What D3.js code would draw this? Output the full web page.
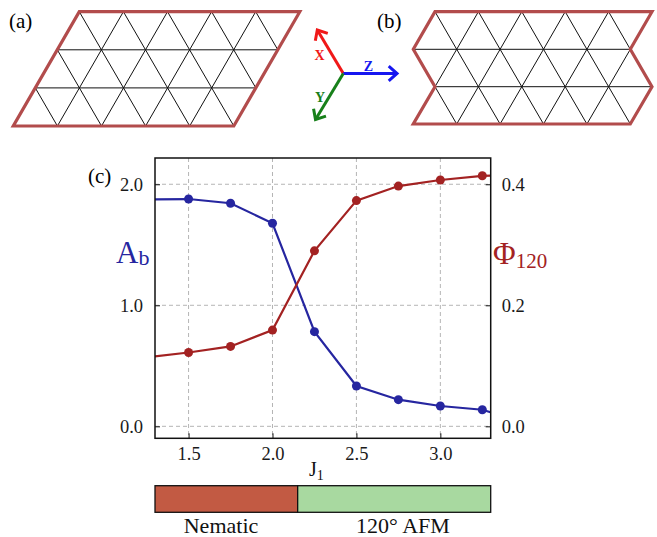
<!DOCTYPE html>
<html>
<head>
<meta charset="utf-8">
<script src="https://cdn.jsdelivr.net/npm/d3@7"></script>
<style>
  body { margin: 0; background: #fff; }
  svg text { font-family: "Liberation Serif", "DejaVu Serif", serif; }
</style>
</head>
<body>
<script>
// data
const J1 = [1.25, 1.5, 1.75, 2.0, 2.25, 2.5, 2.75, 3.0, 3.25, 3.5];
const Ab = [1.875, 1.878, 1.843, 1.678, 0.782, 0.333, 0.220, 0.168, 0.137, 0.030];
const phi120 = [0.114, 0.122, 0.132, 0.159, 0.290, 0.373, 0.397, 0.407, 0.414, 0.416];
const xTicks = [1.5, 2.0, 2.5, 3.0];
const leftTicks = [0.0, 1.0, 2.0];
const rightTicks = [0.0, 0.2, 0.4];
const phases = ["Nematic", "120\u00b0 AFM"];
const phaseEdges = [1.3, 2.15, 3.3];
const phaseColors = ["#c25a43", "#a8d9a0"];

const blue = "#2626a0", red = "#a32222", latticeRed = "#b24c4c";
const serif = "'Liberation Serif', 'Times New Roman', serif";

const svg = d3.select("body").append("svg")
  .attr("width", 657).attr("height", 537);

// ---------- panel (a): rhombic triangular lattice ----------
(function() {
  const o = [79.3, 11.7], a1 = [44.1, 0], a2 = [-22, 38.1];
  const P = (i, j) => [o[0] + i * a1[0] + j * a2[0], o[1] + i * a1[1] + j * a2[1]];
  const segs = [];
  for (let j = 1; j < 3; j++) segs.push([P(0, j), P(5, j)]);
  for (let i = 1; i < 5; i++) segs.push([P(i, 0), P(i, 3)]);
  for (let d = -2; d <= 4; d++) {
    const i0 = Math.max(0, d), i1 = Math.min(5, 3 + d);
    segs.push([P(i0, i0 - d), P(i1, i1 - d)]);
  }
  const g = svg.append("g");
  g.selectAll("line").data(segs).join("line")
    .attr("x1", d => d[0][0]).attr("y1", d => d[0][1])
    .attr("x2", d => d[1][0]).attr("y2", d => d[1][1])
    .attr("stroke", "#111").attr("stroke-width", 1);
  g.append("path")
    .attr("d", d3.line()([P(0, 0), P(5, 0), P(5, 3), P(0, 3)]) + "Z")
    .attr("fill", "none").attr("stroke", latticeRed).attr("stroke-width", 3.2);
  svg.append("text").attr("x", 9).attr("y", 28).attr("font-size", 21).style("font-family", serif).text("(a)");
})();

// ---------- panel (b): zigzag-edged lattice ----------
(function() {
  const rowY = [11.7, 49.3, 86.7, 124], step = 43.4;
  const P = (k, r) => [(r % 2 === 0 ? 435 : 413.3) + k * step, rowY[r]];
  const segs = [];
  for (let r = 1; r < 3; r++) segs.push([P(0, r), P(5, r)]);
  for (let r = 0; r < 3; r++) {
    for (let k = 0; k < 6; k++) {
      for (let m = 0; m < 6; m++) {
        const dx = Math.abs(P(k, r)[0] - P(m, r + 1)[0]);
        if (dx < step * 0.6) segs.push([P(k, r), P(m, r + 1)]);
      }
    }
  }
  const g = svg.append("g");
  g.selectAll("line").data(segs).join("line")
    .attr("x1", d => d[0][0]).attr("y1", d => d[0][1])
    .attr("x2", d => d[1][0]).attr("y2", d => d[1][1])
    .attr("stroke", "#111").attr("stroke-width", 1);
  const border = [P(0, 0), P(5, 0), P(5, 1), P(5, 2), P(5, 3), P(0, 3), P(0, 2), P(0, 1)];
  g.append("path").attr("d", d3.line()(border) + "Z")
    .attr("fill", "none").attr("stroke", latticeRed).attr("stroke-width", 3.2);
  svg.append("text").attr("x", 377).attr("y", 28).attr("font-size", 21).style("font-family", serif).text("(b)");
})();

// ---------- axes arrows ----------
(function() {
  const o = [343.3, 73.5];
  const arrows = [
    { end: [317.3, 30], color: "#f01818", label: "X", lp: [319.5, 60] },
    { end: [397, 73.5], color: "#1616f0", label: "Z", lp: [368.5, 71] },
    { end: [315.5, 119.5], color: "#17801a", label: "Y", lp: [320, 102] }
  ];
  const g = svg.append("g");
  arrows.forEach(a => {
    const ang = Math.atan2(a.end[1] - o[1], a.end[0] - o[0]);
    const L = 11, spread = 0.72;
    g.append("line").attr("x1", o[0]).attr("y1", o[1]).attr("x2", a.end[0]).attr("y2", a.end[1])
      .attr("stroke", a.color).attr("stroke-width", 3);
    const head = [
      [a.end[0] - L * Math.cos(ang - spread), a.end[1] - L * Math.sin(ang - spread)],
      a.end,
      [a.end[0] - L * Math.cos(ang + spread), a.end[1] - L * Math.sin(ang + spread)]
    ];
    g.append("path").attr("d", d3.line()(head)).attr("fill", "none")
      .attr("stroke", a.color).attr("stroke-width", 3).attr("stroke-linejoin", "miter");
    g.append("text").attr("x", a.lp[0]).attr("y", a.lp[1]).attr("text-anchor", "middle")
      .attr("font-size", 14).attr("font-weight", "bold").attr("fill", a.color)
      .style("font-family", serif).text(a.label);
  });
})();

// ---------- panel (c): chart ----------
const pLeft = 155, pRight = 490.7, pTop = 158, pBottom = 438.3;
const x = d3.scaleLinear().domain([1.3, 3.3]).range([pLeft, pRight]);
const yL = d3.scaleLinear().domain([-0.099, 2.217]).range([pBottom, pTop]);
const yR = d3.scaleLinear().domain([-0.0198, 0.4434]).range([pBottom, pTop]);

svg.append("clipPath").attr("id", "clip").append("rect")
  .attr("x", pLeft).attr("y", pTop).attr("width", pRight - pLeft).attr("height", pBottom - pTop);

// grid
const grid = svg.append("g").attr("stroke", "#b5b5b5").attr("stroke-width", 1).attr("stroke-dasharray", "4,3");
grid.selectAll(".gx").data(xTicks).join("line").attr("class", "gx")
  .attr("x1", d => x(d)).attr("x2", d => x(d)).attr("y1", pTop).attr("y2", pBottom);
grid.selectAll(".gy").data(leftTicks).join("line").attr("class", "gy")
  .attr("x1", pLeft).attr("x2", pRight).attr("y1", d => yL(d)).attr("y2", d => yL(d));

// series
const plot = svg.append("g").attr("clip-path", "url(#clip)");
const series = [
  { vals: Ab, y: yL, color: blue },
  { vals: phi120, y: yR, color: red }
];
series.forEach(s => {
  const pts = J1.map((j, i) => [x(j), s.y(s.vals[i])]);
  plot.append("path").attr("d", d3.line()(pts)).attr("fill", "none")
    .attr("stroke", s.color).attr("stroke-width", 2.2);
  plot.selectAll(null).data(pts).join("circle")
    .attr("cx", d => d[0]).attr("cy", d => d[1]).attr("r", 4.5).attr("fill", s.color);
});

// axes (inward ticks)
const fmt = d3.format(".1f");
const axB = svg.append("g").attr("transform", `translate(0,${pBottom})`)
  .call(d3.axisBottom(x).tickValues(xTicks).tickFormat(fmt).tickSizeInner(-5).tickSizeOuter(0).tickPadding(9));
const axL = svg.append("g").attr("transform", `translate(${pLeft},0)`)
  .call(d3.axisLeft(yL).tickValues(leftTicks).tickFormat(fmt).tickSizeInner(-5).tickSizeOuter(0).tickPadding(12));
const axR = svg.append("g").attr("transform", `translate(${pRight},0)`)
  .call(d3.axisRight(yR).tickValues(rightTicks).tickFormat(fmt).tickSizeInner(-5).tickSizeOuter(0).tickPadding(11));
[axB, axL, axR].forEach(a => {
  a.select(".domain").remove();
  a.attr("font-family", null);
  a.selectAll("text").attr("font-size", 18.5).attr("fill", "#1a1a1a")
    .style("font-family", serif);
  a.selectAll("line").attr("stroke", "#111");
});
svg.append("rect").attr("x", pLeft).attr("y", pTop).attr("width", pRight - pLeft).attr("height", pBottom - pTop)
  .attr("fill", "none").attr("stroke", "#111").attr("stroke-width", 1.5);

// axis labels
const xl = svg.append("text").attr("x", 309).attr("y", 476).attr("font-size", 20).attr("fill", "#111")
  .style("font-family", serif);
xl.append("tspan").text("J");
xl.append("tspan").attr("font-size", 14).attr("dy", 4).text("1");

const al = svg.append("text").attr("x", 116).attr("y", 263).attr("font-size", 31).attr("fill", blue)
  .style("font-family", serif);
al.append("tspan").text("A");
al.append("tspan").attr("font-size", 22).attr("dy", 2).text("b");

const pl = svg.append("text").attr("x", 493).attr("y", 264).attr("font-size", 31).attr("fill", red)
  .style("font-family", serif);
pl.append("tspan").text("\u03a6");
pl.append("tspan").attr("font-size", 21).attr("dy", 4).text("120");

svg.append("text").attr("x", 88).attr("y", 183).attr("font-size", 21).style("font-family", serif).text("(c)");

// ---------- phase bar ----------
const barTop = 485.7, barH = 26.6;
const bar = svg.append("g");
phases.forEach((p, i) => {
  bar.append("rect").attr("x", x(phaseEdges[i])).attr("y", barTop)
    .attr("width", x(phaseEdges[i + 1]) - x(phaseEdges[i])).attr("height", barH)
    .attr("fill", phaseColors[i]).attr("stroke", "#111").attr("stroke-width", 1.3);
});
const labelX = [221, 403];
phases.forEach((p, i) => {
  svg.append("text").attr("x", labelX[i]).attr("y", 533).attr("text-anchor", "middle")
    .attr("font-size", 22).attr("fill", "#111").style("font-family", serif).text(p);
});
</script>
</body>
</html>
